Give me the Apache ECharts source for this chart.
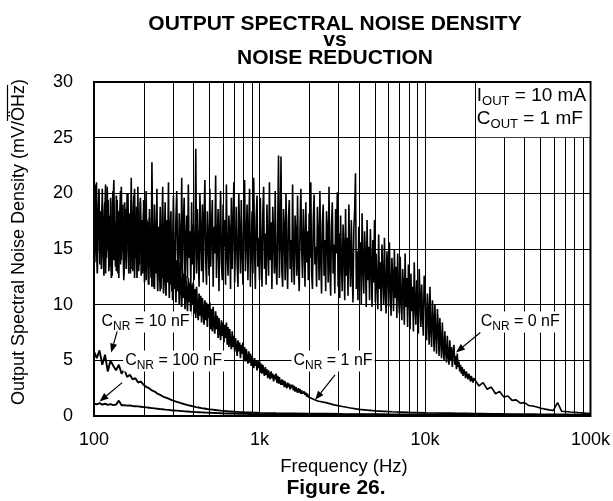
<!DOCTYPE html>
<html><head><meta charset="utf-8">
<script src="https://cdn.jsdelivr.net/npm/echarts@6/dist/echarts.min.js"></script>
<style>html,body{margin:0;padding:0;background:#fff}#c{width:613px;height:501px}</style>
</head><body><div id="c"></div>
<script>
const FONT = '"Liberation Sans", Arial, Helvetica, sans-serif';

// axis ticks
const xTickLabels = ['100', '1k', '10k', '100k'];
const yTickLabels = ['0', '5', '10', '15', '20', '25', '30'];
const minorGridFreqs = [200,300,400,500,600,700,800,900,2000,3000,4000,5000,6000,7000,8000,9000,20000,30000,40000,50000,60000,70000,80000,90000];

// Each curve is read in two segments; a segment starts at a frequency (Hz)
// and is sampled log-evenly with a number of points per decade.
// C_NR = 0 nF : 100 Hz .. 20 kHz, 200 pts/decade
const cnr0Low = [
15.4,20.8,16.0,21.0,14.8,17.6,19.8,13.6,18.4,15.2,20.4,14.2,17.0,19.2,12.8,16.6,20.6,15.0,18.0,13.4,
19.6,16.2,12.6,18.8,21.2,14.4,17.4,13.0,19.4,15.8,12.4,17.8,20.2,14.0,16.4,19.0,12.2,15.6,18.6,13.8,
20.0,16.8,12.8,18.2,14.6,21.4,13.2,17.2,19.8,12.4,16.0,18.8,14.2,20.6,13.0,15.4,19.2,12.6,17.6,15.0,
19.4,12.0,16.6,20.2,13.6,17.4,11.8,18.6,14.8,12.4,22.8,15.6,11.6,19.0,16.2,13.0,20.4,12.2,17.0,14.4,
18.8,11.4,16.4,20.6,13.4,15.8,19.2,11.8,17.6,14.0,21.0,12.6,16.8,18.4,11.2,15.2,19.8,13.8,12.0,17.8,
20.2,14.6,11.6,18.2,16.0,12.8,21.4,13.2,17.4,19.6,11.4,15.8,18.0,12.4,20.8,14.2,16.6,11.8,19.2,13.6,
17.2,12.2,15.4,24.0,12.8,18.6,14.8,11.6,20.0,16.2,13.0,19.0,12.0,17.8,21.2,14.0,11.8,18.4,15.6,12.6,
20.4,13.4,16.8,19.4,11.6,17.0,14.6,21.6,12.4,15.8,18.6,11.2,16.4,20.2,13.8,12.2,19.0,15.2,17.6,11.8,
20.8,14.4,12.6,18.0,16.6,11.4,19.6,13.2,17.2,21.0,12.0,15.6,18.8,13.6,11.6,20.0,16.2,12.8,19.4,14.8,
11.8,17.6,21.2,13.0,15.8,19.0,12.2,16.8,20.4,11.6,14.6,18.4,12.8,21.4,15.4,11.4,17.8,19.8,13.4,16.0,
12.2,19.6,14.8,11.6,18.2,20.6,13.2,16.4,11.8,19.0,15.2,12.6,21.0,14.0,17.4,11.4,18.8,16.2,12.8,20.2,
13.6,11.8,17.0,23.4,12.4,15.6,23.3,13.0,11.6,18.6,16.8,12.2,20.0,14.4,11.4,17.8,19.4,13.2,15.8,12.0,
20.8,14.6,11.8,18.0,16.4,12.6,19.8,13.4,11.2,17.2,20.4,14.8,12.4,18.6,15.6,11.6,19.2,13.8,16.6,12.2,
18.2,14.2,21.0,12.8,11.4,17.6,19.9,13.6,15.2,11.6,18.8,16.0,12.2,20.2,14.0,11.0,17.4,19.0,12.6,15.8,
11.2,18.4,16.6,12.0,20.6,13.4,10.8,17.0,19.2,12.8,15.4,11.0,18.6,14.6,20.1,
11.6,16.4,10.6,18.0,13.8,11.2,17.2,15.0,10.4,18.6,12.6,16.0,10.8,19.0,14.2,11.6,17.6,13.0,10.2,16.8,
18.4,21.8,11.4,14.8,10.4,17.0,12.8,15.6,10.0,18.2,13.4,11.0,16.6,14.4,9.8,17.6,12.2,15.2,10.4,16.8,13.6,9.8,15.8,12.0,17.6,
10.2,14.6,12.0,9.6,16.3,11.4,13.8,9.4,15.4,12.6,10.0,16.0,11.2,9.2,14.8,13.0,9.8,15.6,11.6,9.0,
14.2,12.4,9.4,15.0,10.6,13.4,8.8,14.6,11.0,9.2,
14.3,10.4,8.6,13.2,11.6,8.2,14.6,9.8,12.4,8.0,13.6,10.8,7.8,12.8,9.4,11.6,7.6,13.8,10.0,8.2,
12.2,9.6,7.4,13.2,10.6,8.0,11.8,9.0,7.2,12.6,
12.2,8.4,6.8,11.0,9.2,6.4,11.6,7.8,6.2,10.4,8.6,5.8,10.0,7.4,5.6,9.6,8.0,5.4,8.8,6.8,5.2,8.4,6.2,
5.0,7.6,5.8,4.8,7.2,5.4,4.6,6.8,5.0,6.2,4.4,5.8,6.4,4.6,5.4,4.2,5.6,4.4,
4.9,4.0,4.6,3.8,4.4,3.6,4.2,3.9,3.4,4.0,3.6,3.3,3.8,3.5,3.1,3.6,3.3,3.0,3.4,3.3
];
// C_NR = 0 nF : 20 kHz .. 100 kHz, 40 pts/decade
const cnr0High = [
3.3,2.7,3.0,2.4,2.6,2.0,2.2,1.7,1.8,1.4,
1.45,1.15,1.2,0.95,0.9,0.8,0.7,0.62,0.55,0.5,
1.2,0.42,0.4,0.36,0.33,0.3,0.28,0.25,0.22
];
// C_NR = 1 nF : 100 Hz .. 2 kHz, 200 pts/decade
const cnr1Low = [
17.2,13.8,19.6,15.4,12.8,18.2,20.4,14.6,16.8,13.2,19.0,15.8,12.6,17.6,20.8,14.2,16.2,19.4,13.0,17.8,
15.0,12.4,18.8,20.2,14.0,16.6,13.4,19.8,15.6,12.8,18.4,16.0,13.6,20.6,14.8,17.2,12.6,19.2,15.4,13.2,
18.0,20.0,14.4,16.4,12.8,19.4,15.2,13.0,17.4,20.4,14.2,16.8,12.4,18.6,15.8,13.6,19.6,14.6,17.0,12.8,
18.2,13.0,16.4,12.2,17.6,14.6,11.8,17.8,13.4,16.2,11.6,17.0,14.0,11.4,16.6,12.8,15.8,11.2,16.4,13.6,
11.2,15.8,12.4,15.2,11.0,14.8,12.8,10.8,15.4,12.0,14.4,10.6,14.8,11.8,13.6,10.4,14.6,11.4,13.8,10.2,
14.0,11.2,13.4,10.0,13.8,11.6,9.8,13.2,10.6,12.8,9.6,12.6,11.0,9.4,12.4,10.2,12.0,9.0,11.8,10.0,
12.0,9.2,11.4,8.8,11.6,9.6,8.6,11.0,9.0,10.8,8.4,10.6,9.4,8.2,10.4,8.6,10.2,8.0,10.0,8.8,
10.2,7.8,9.6,7.6,9.8,8.2,7.4,9.4,7.8,9.0,7.0,8.8,7.6,6.8,8.6,7.2,8.4,6.6,8.2,7.0,
8.4,6.4,8.0,6.2,7.8,6.6,6.0,7.6,6.2,7.2,5.8,7.0,6.2,5.4,6.8,5.8,6.6,5.2,6.4,5.6,
6.6,5.0,6.2,4.9,6.0,5.2,4.7,5.8,4.8,5.6,4.5,5.4,4.8,4.3,5.2,4.5,5.0,4.1,4.9,4.3,
5.0,3.9,4.7,3.8,4.6,4.0,3.6,4.4,3.7,4.2,3.4,4.1,3.6,3.3,4.0,3.4,3.8,3.1,3.7,3.3,
3.8,3.0,3.6,2.9,3.5,3.0,2.8,3.3,2.8,3.2,2.6,3.1,2.7,2.5,3.0,2.6,2.9,2.4,2.8,2.5,
2.8,2.3,2.7,2.2,2.6,2.3,2.1,2.5,2.1,2.4,2.0,2.3,2.0,1.9,2.2,1.9,2.1,1.75,2.0,1.7,1.6
];
// C_NR = 1 nF : 2 kHz .. 100 kHz, 20 pts/decade
const cnr1High = [
1.55,1.35,1.2,1.0,0.85,0.72,0.6,0.52,0.46,0.42,
0.38,0.35,0.32,0.3,0.28,0.27,0.26,0.25,0.24,0.23,
0.22,0.21,0.2,0.19,0.18,0.17,0.16,0.16,0.15,0.15,
0.14,0.14,0.13,0.13,0.12
];
// C_NR = 10 nF : 100 Hz .. 1 kHz, 60 pts/decade
const cnr10Low = [
5.8,5.2,5.9,4.6,5.5,4.0,5.0,4.5,4.1,4.6,
3.8,4.2,3.5,3.7,3.3,3.4,3.0,3.1,2.8,2.6,
2.5,2.3,2.2,2.0,1.9,1.75,1.65,1.55,1.45,1.35,
1.27,1.2,1.12,1.05,0.98,0.92,0.86,0.8,0.76,0.71,
0.67,0.63,0.6,0.57,0.54,0.51,0.48,0.46,0.44,0.42,
0.4,0.38,0.37,0.35,0.34,0.33,0.32,0.31,0.3,0.29,0.28
];
// C_NR = 10 nF : 1 kHz .. 100 kHz, 10 pts/decade
const cnr10High = [
0.28,0.25,0.23,0.21,0.2,0.18,0.17,0.16,0.15,0.14,
0.14,0.13,0.12,0.12,0.11,0.11,0.1,0.1,0.1,0.09,0.09
];
// C_NR = 100 nF : 100 Hz .. 1 kHz, 60 pts/decade
const cnr100Low = [
1.12,1.05,1.15,1.02,1.1,1.0,1.06,0.98,1.02,1.38,
0.96,0.98,0.93,0.95,0.9,0.88,0.86,0.83,0.8,0.77,
0.74,0.71,0.68,0.65,0.62,0.6,0.57,0.55,0.52,0.5,
0.48,0.46,0.44,0.42,0.4,0.38,0.37,0.35,0.34,0.33,
0.31,0.3,0.29,0.28,0.27,0.26,0.25,0.24,0.23,0.22,
0.22,0.21,0.2,0.2,0.19,0.19,0.18,0.18,0.17,0.17,0.16
];
// C_NR = 100 nF : 1 kHz .. 100 kHz, 10 pts/decade
const cnr100High = [
0.16,0.15,0.14,0.13,0.12,0.12,0.11,0.11,0.1,0.1,
0.1,0.09,0.09,0.09,0.08,0.08,0.08,0.08,0.08,0.08,0.08
];

// curve annotations (data coordinates: [Hz, mV/rtHz])
const curveLabels = [
  { sub: 'NR', rest: ' = 10 nF', at: [108, 8.45] },
  { sub: 'NR', rest: ' = 100 nF', at: [150, 4.94] },
  { sub: 'NR', rest: ' = 1 nF', at: [1560, 4.94] },
  { sub: 'NR', rest: ' = 0 nF', at: [21100, 8.45] }
];
const curveArrows = [
  { from: [138, 7.6], to: [127, 5.7] },
  { from: [148, 3.0], to: [108, 1.3] },
  { from: [2860, 3.7], to: [2170, 1.45] },
  { from: [21600, 7.5], to: [15400, 5.7] }
];

function seg(start, ppd, values) {
  return values.map((v, i) => [start * Math.pow(10, i / ppd), v]);
}
function curve(name, data, w) {
  return {
    name, type: 'line', data, symbol: 'none', showSymbol: false,
    lineStyle: { color: '#000', width: w }, itemStyle: { color: '#000' },
    z: 5, silent: true, animation: false, sampling: null
  };
}

const chart = echarts.init(document.getElementById('c'), null, { renderer: 'canvas' });
chart.setOption({
  animation: false,
  backgroundColor: '#fff',
  grid: { left: 94, right: 21, top: 82, bottom: 85, show: true, borderColor: '#000', borderWidth: 2, backgroundColor: 'transparent' },
  xAxis: {
    type: 'log', logBase: 10, min: 100, max: 100000,
    axisLine: { show: false }, axisTick: { show: false },
    splitLine: { show: true, lineStyle: { color: '#000', width: 1 } },
    axisLabel: {
      color: '#000', fontFamily: FONT, fontSize: 18, margin: 15,
      formatter: v => xTickLabels[Math.round(Math.log10(v)) - 2]
    }
  },
  yAxis: {
    type: 'value', min: 0, max: 30, interval: 5,
    axisLine: { show: false }, axisTick: { show: false },
    splitLine: { show: true, lineStyle: { color: '#000', width: 1 } },
    axisLabel: { color: '#000', fontFamily: FONT, fontSize: 18, margin: 21, formatter: v => yTickLabels[Math.round(v / 5)] }
  },
  series: [
    {
      type: 'line', data: [], z: 1, silent: true,
      markLine: {
        silent: true, symbol: ['none', 'none'], animation: false, label: { show: false },
        lineStyle: { color: '#000', width: 1, type: 'solid' },
        data: minorGridFreqs.map(f => ({ xAxis: f }))
      }
    },
    curve('C_NR = 0 nF', seg(100, 200, cnr0Low).concat(seg(20000, 40, cnr0High).slice(1)), 1.6),
    curve('C_NR = 1 nF', seg(100, 200, cnr1Low).concat(seg(2000, 20, cnr1High).slice(1)), 1.7),
    curve('C_NR = 10 nF', seg(100, 60, cnr10Low).concat(seg(1000, 10, cnr10High).slice(1)), 1.9),
    curve('C_NR = 100 nF', seg(100, 60, cnr100Low).concat(seg(1000, 10, cnr100High).slice(1)), 1.9)
  ]
});

const px = p => chart.convertToPixel({ gridIndex: 0 }, p);
const g = [];

// title
const titleLines = ['OUTPUT SPECTRAL NOISE DENSITY', 'vs', 'NOISE REDUCTION'];
const titleY = [24.5, 40, 58.5];
titleLines.forEach((t, i) => g.push({
  type: 'text', x: 335, y: titleY[i], z: 30,
  style: { text: t, fontFamily: FONT, fontSize: 21, fontWeight: 'bold', fill: '#000', align: 'center', verticalAlign: 'middle' }
}));
g.push({ type: 'text', x: 344, y: 467, z: 30, style: { text: 'Frequency (Hz)', fontFamily: FONT, fontSize: 18.5, fill: '#000', align: 'center', verticalAlign: 'middle' } });
g.push({ type: 'text', x: 336, y: 488, z: 30, style: { text: 'Figure 26.', fontFamily: FONT, fontSize: 21, fontWeight: 'bold', fill: '#000', align: 'center', verticalAlign: 'middle' } });

// y axis name with overline on "ÖHz"
const yName = 'Output Spectral Noise Density (mV/ÖHz)';
const yCx = 19, yCy = 242, yFs = 18;
g.push({ type: 'text', x: yCx, y: yCy, rotation: Math.PI / 2, z: 30,
  style: { text: yName, fontFamily: FONT, fontSize: yFs, fill: '#000', align: 'center', verticalAlign: 'middle' } });
const ctx = document.createElement('canvas').getContext('2d');
ctx.font = yFs + 'px ' + FONT;
const wAll = ctx.measureText(yName).width;
const wPre = ctx.measureText('Output Spectral Noise Density (mV/').width;
const wOv = ctx.measureText('ÖHz').width;
const yStart = yCy + wAll / 2;
g.push({ type: 'line', z: 30, shape: { x1: yCx - 11.5, y1: yStart - wPre, x2: yCx - 11.5, y2: yStart - wPre - wOv }, style: { stroke: '#000', lineWidth: 1.2 } });

// conditions box (top right)
const boxTL = px([20000, 30]);
const boxBR = px([100000, 25]);
g.push({ type: 'rect', z: 25, shape: { x: boxTL[0] + 1.5, y: boxTL[1] + 1, width: boxBR[0] - boxTL[0] - 2.5, height: boxBR[1] - boxTL[1] - 1.5 }, style: { fill: '#fff' } });
const richBox = {
  n: { fontSize: 19, fontFamily: FONT, fill: '#000' },
  s: { fontSize: 13, fontFamily: FONT, fill: '#000', padding: [10, 0, 0, 0] }
};
g.push({ type: 'text', z: 30, x: boxTL[0] + 2, y: boxTL[1] + 14, style: { text: '{n|I}{s|OUT}{n| = 10 mA}', rich: richBox, align: 'left', verticalAlign: 'middle' } });
g.push({ type: 'text', z: 30, x: boxTL[0] + 2, y: boxTL[1] + 37, style: { text: '{n|C}{s|OUT}{n| = 1 mF}', rich: richBox, align: 'left', verticalAlign: 'middle' } });

// curve labels
const richLab = {
  n: { fontSize: 16, fontFamily: FONT, fill: '#000' },
  s: { fontSize: 12, fontFamily: FONT, fill: '#000', padding: [9, 0, 0, 0] }
};
curveLabels.forEach(l => {
  const p = px(l.at);
  g.push({ type: 'text', z: 30, x: p[0], y: p[1], style: { text: '{n|C}{s|' + l.sub + '}{n|' + l.rest + '}', rich: richLab, align: 'left', verticalAlign: 'middle', backgroundColor: '#fff', padding: [0, 2, 0, 2] } });
});
curveArrows.forEach(a => {
  const f = px(a.from), t = px(a.to);
  const dx = t[0] - f[0], dy = t[1] - f[1], L = Math.hypot(dx, dy), ux = dx / L, uy = dy / L;
  const hl = 9, hw = 3.5, bx = t[0] - ux * hl, by = t[1] - uy * hl;
  g.push({ type: 'line', z: 30, shape: { x1: f[0], y1: f[1], x2: bx, y2: by }, style: { stroke: '#000', lineWidth: 1.2 } });
  g.push({ type: 'polygon', z: 30, shape: { points: [t, [bx - uy * hw, by + ux * hw], [bx + uy * hw, by - ux * hw]] }, style: { fill: '#000' } });
});

chart.setOption({ graphic: g });
</script>
</body></html>
